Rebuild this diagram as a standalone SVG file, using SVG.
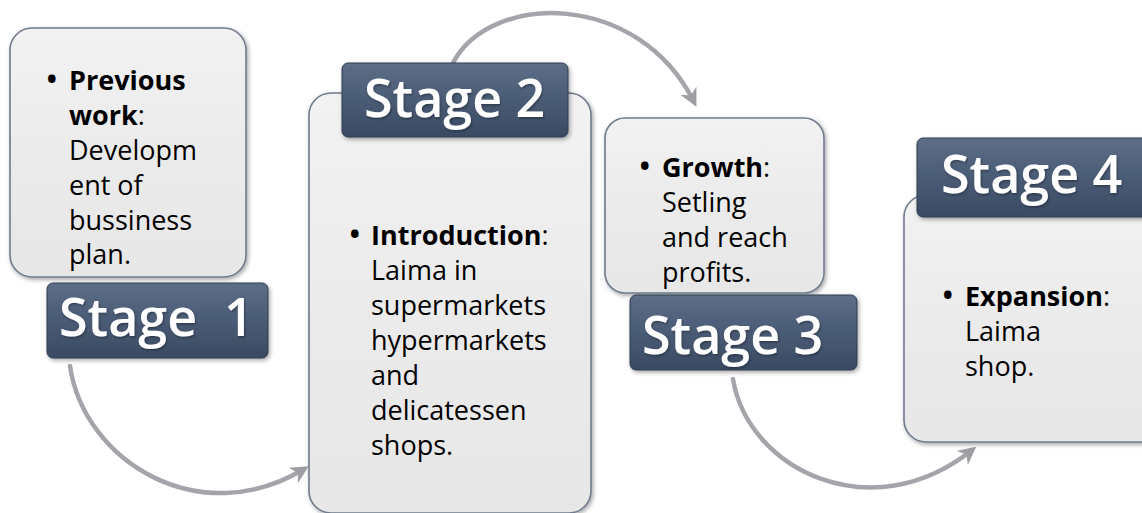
<svg xmlns="http://www.w3.org/2000/svg" width="1142" height="513" viewBox="0 0 1142 513">
<defs>
<linearGradient id="lightG" x1="0" y1="0" x2="0" y2="1">
<stop offset="0" stop-color="#f2f2f2"/>
<stop offset="0.5" stop-color="#ebebeb"/>
<stop offset="1" stop-color="#e7e7e7"/>
</linearGradient>
<linearGradient id="darkG" x1="0" y1="0" x2="0" y2="1">
<stop offset="0" stop-color="#5d6e87"/>
<stop offset="0.5" stop-color="#4a5b75"/>
<stop offset="1" stop-color="#3a4a63"/>
</linearGradient>
<filter id="sh" x="-10%" y="-10%" width="125%" height="125%">
<feDropShadow dx="1.5" dy="2" stdDeviation="2" flood-color="#000" flood-opacity="0.35"/>
</filter>
<filter id="tsh" x="-10%" y="-20%" width="120%" height="150%">
<feDropShadow dx="1" dy="1.5" stdDeviation="1" flood-color="#000" flood-opacity="0.35"/>
</filter>
<marker id="ah" viewBox="0 0 10 10" refX="7" refY="5" markerWidth="4" markerHeight="4" orient="auto" markerUnits="strokeWidth">
<path d="M0,0 L10,5 L0,10 L3,5 Z" fill="#9c9ea3"/>
</marker>
<style>
.box{fill:url(#lightG);stroke:#6f7b8c;stroke-width:1.6;filter:url(#sh)}
.lab{fill:url(#darkG);stroke:#2f3d52;stroke-width:1;filter:url(#sh)}
.labtxt{font-family:"Open Sans","Noto Sans",sans-serif;font-weight:600;font-size:52px;fill:#ffffff;filter:url(#tsh)}
.body{font-family:"Open Sans","Noto Sans",sans-serif;font-size:27px;fill:#000000}
.b{font-weight:700}
.bul{font-size:36px}
.conn{fill:none;stroke:#a3a5aa;stroke-width:4.5;stroke-linecap:round;marker-end:url(#ah)}
</style>
</defs>

<g id="connectors">
<path class="conn" d="M70,366 C 84,462 200,532 304,469"/>
<path class="conn" d="M453,63 C 490,-8 638,-10 694,102"/>
<path class="conn" d="M733,379 C 748,470 872,530 972,450"/>
</g>

<g id="stage1">
<rect class="box" x="10" y="28" width="236" height="249" rx="22"/>
<text class="body"><tspan x="45" y="92" class="bul">•</tspan><tspan x="69" y="90" class="b">Previous</tspan>
<tspan x="69" y="125" class="b">work</tspan><tspan>:</tspan>
<tspan x="69" y="160">Developm</tspan>
<tspan x="69" y="195">ent of</tspan>
<tspan x="69" y="230">bussiness</tspan>
<tspan x="69" y="264">plan.</tspan></text>
<rect class="lab" x="47" y="283" width="221" height="75" rx="6"/>
<text class="labtxt" x="59" y="336" xml:space="preserve">Stage  1</text>
</g>

<g id="stage2">
<rect class="box" x="309" y="93" width="282" height="420" rx="22"/>
<rect class="lab" x="342" y="63" width="226" height="74" rx="6"/>
<text class="labtxt" x="364" y="117">Stage 2</text>
<text class="body"><tspan x="348" y="247" class="bul">•</tspan><tspan x="371" y="245" class="b">Introduction</tspan><tspan>:</tspan>
<tspan x="371" y="280">Laima in</tspan>
<tspan x="371" y="315">supermarkets</tspan>
<tspan x="371" y="350">hypermarkets</tspan>
<tspan x="371" y="385">and</tspan>
<tspan x="371" y="420">delicatessen</tspan>
<tspan x="371" y="455">shops.</tspan></text>
</g>

<g id="stage3">
<rect class="box" x="605" y="118" width="219" height="175" rx="20"/>
<text class="body"><tspan x="638" y="179" class="bul">•</tspan><tspan x="662" y="177" class="b">Growth</tspan><tspan>:</tspan>
<tspan x="662" y="212">Setling</tspan>
<tspan x="662" y="247">and reach</tspan>
<tspan x="662" y="282">profits.</tspan></text>
<rect class="lab" x="630" y="295" width="227" height="75" rx="6"/>
<text class="labtxt" x="642" y="354">Stage 3</text>
</g>

<g id="stage4">
<rect class="box" x="904" y="195" width="260" height="247" rx="22"/>
<rect class="lab" x="917" y="138" width="240" height="79" rx="6"/>
<text class="labtxt" x="941" y="193">Stage 4</text>
<text class="body"><tspan x="941" y="308" class="bul">•</tspan><tspan x="965" y="306" class="b">Expansion</tspan><tspan>:</tspan>
<tspan x="965" y="341">Laima</tspan>
<tspan x="965" y="376">shop.</tspan></text>
</g>
</svg>
